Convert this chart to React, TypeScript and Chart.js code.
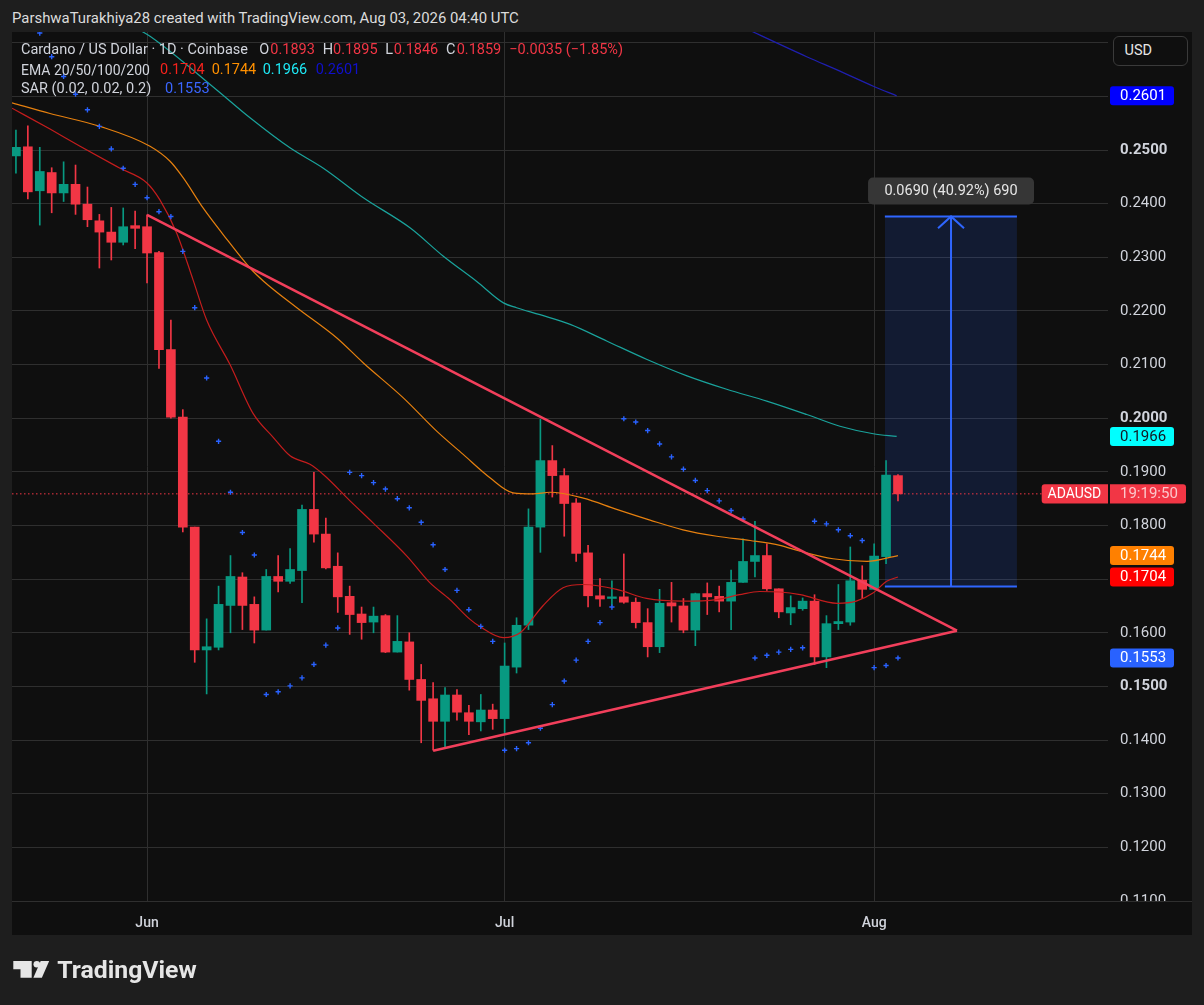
import React, { useEffect, useRef } from 'react';
import { Chart, registerables } from 'chart.js';

Chart.register(...registerables);

// ---- data (day index 0 = May 21, 2026) ----
const opens = [0.2489,0.2506,0.2424,0.2458,0.2420,0.2436,0.2399,0.2368,0.2347,0.2328,0.2359,
0.2357,0.2309,0.2128,0.2002,0.1797,0.1568,0.1573,0.1651,0.1704,0.1653,0.1605,0.1705,0.1696,0.1716,0.1830,0.1784,0.1724,0.1668,0.1635,0.1620,0.1632,0.1564,0.1583,0.1513,0.1477,0.1435,0.1484,0.1451,0.1434,0.1456,
0.1440,0.1536,0.1614,0.1797,0.1921,0.1893,0.1842,0.1749,0.1669,0.1664,0.1667,0.1657,0.1619,0.1574,0.1656,0.1650,0.1605,0.1673,0.1668,0.1659,0.1694,0.1733,0.1744,0.1682,0.1637,0.1645,0.1659,0.1555,0.1617,0.1620,0.1698,
0.1681,0.1742,0.1893];
const highs = [0.2537,0.2545,0.2505,0.2467,0.2478,0.2472,0.2431,0.2380,0.2393,0.2392,0.2386,
0.2379,0.2311,0.2183,0.2016,0.1797,0.1626,0.1687,0.1744,0.1712,0.1667,0.1718,0.1744,0.1757,0.1838,0.1899,0.1814,0.1749,0.1687,0.1648,0.1648,0.1634,0.1632,0.1600,0.1541,0.1507,0.1498,0.1494,0.1465,0.1485,0.1467,
0.1581,0.1628,0.1831,0.1998,0.1949,0.1906,0.1850,0.1763,0.1701,0.1697,0.1747,0.1665,0.1645,0.1681,0.1694,0.1664,0.1674,0.1693,0.1687,0.1717,0.1775,0.1808,0.1766,0.1682,0.1669,0.1665,0.1671,0.1632,0.1690,0.1760,0.1725,
0.1766,0.1921,0.1895];
const lows = [0.2457,0.2409,0.2360,0.2383,0.2404,0.2380,0.2357,0.2280,0.2295,0.2323,0.2316,
0.2252,0.2093,0.2000,0.1788,0.1545,0.1486,0.1568,0.1600,0.1606,0.1581,0.1605,0.1676,0.1692,0.1656,0.1769,0.1719,0.1638,0.1597,0.1588,0.1600,0.1563,0.1564,0.1493,0.1395,0.1381,0.1386,0.1437,0.1410,0.1417,0.1420,
0.1414,0.1525,0.1606,0.1750,0.1853,0.1780,0.1733,0.1648,0.1649,0.1651,0.1655,0.1609,0.1555,0.1563,0.1620,0.1600,0.1576,0.1634,0.1639,0.1606,0.1694,0.1704,0.1679,0.1628,0.1615,0.1642,0.1541,0.1535,0.1606,0.1614,0.1664,
0.1681,0.1729,0.1846];
const closes = [0.2505,0.2422,0.2460,0.2420,0.2436,0.2399,0.2370,0.2347,0.2328,0.2357,0.2354,
0.2308,0.2128,0.2002,0.1797,0.1568,0.1574,0.1653,0.1705,0.1651,0.1605,0.1705,0.1696,0.1718,0.1830,0.1784,0.1721,0.1667,0.1634,0.1619,0.1631,0.1564,0.1584,0.1513,0.1474,0.1435,0.1484,0.1452,0.1435,0.1456,0.1440,
0.1538,0.1614,0.1797,0.1921,0.1893,0.1841,0.1748,0.1669,0.1663,0.1667,0.1657,0.1619,0.1574,0.1655,0.1650,0.1605,0.1673,0.1667,0.1659,0.1694,0.1733,0.1744,0.1682,0.1639,0.1647,0.1659,0.1555,0.1617,0.1621,0.1697,0.1681,
0.1743,0.1894,0.1859];

const sarValues = [null,null,0.2718,0.2674,0.2637,0.2604,0.2575,0.2544,0.2502,0.2466,0.2436,
0.2411,0.2385,0.2376,0.2311,0.2206,0.2075,0.1957,0.1862,0.1787,0.1745,0.1485,0.1490,0.1501,0.1516,0.1541,0.1577,0.1609,0.1899,0.1893,0.1880,0.1868,0.1850,0.1833,0.1806,0.1764,0.1718,0.1679,0.1643,0.1612,0.1584,
0.1381,0.1384,0.1395,0.1422,0.1466,0.1510,0.1549,0.1584,0.1619,0.1648,0.1999,0.1993,0.1977,0.1952,0.1928,0.1905,0.1884,0.1865,0.1846,0.1828,0.1812,0.1553,0.1558,0.1564,0.1569,0.1572,0.1808,0.1803,0.1792,0.1781,0.1772,
0.1535,0.1539,0.1553];

const ema20X = [-0.33,2.86,5.38,8.73,10.97,12.08,13.49,14.86,16.0,17.96,19.92,21.6,23.0,24.67,25.79,28.03,29.96,32.8,34.7,36.4,38.1,38.9,40.9,42.3,44.2,45.9,47.6,50.4,52.9,55.96,58.8,60.7,62.4,64.1,65.8,68.9,70.5,71.9,73.05,74.0];
const ema20Y = [0.2578,0.2539,0.2507,0.2466,0.2439,0.2407,0.2345,0.2258,0.2183,0.2100,0.2008,0.1964,0.1930,0.1914,0.1895,0.1846,0.1805,0.1743,0.1694,0.1662,0.1625,0.1612,0.1591,0.1600,0.1650,0.1684,0.1690,0.1681,0.1664,0.1659,0.1662,0.1671,0.1677,0.1676,0.1671,0.1655,0.1659,0.1674,0.1696,0.1704];
const ema50X = [-0.33,2.86,7.06,11.25,12.93,14.04,15.7,17.4,19.64,20.8,23.57,26.9,29.15,32.5,35.3,37.5,39.77,41.7,43.4,44.8,47.6,50.4,53.2,55.96,58.8,61.6,64.1,65.8,68.55,71.4,74.0];
const ema50Y = [0.2588,0.2568,0.2544,0.2507,0.2479,0.2448,0.2392,0.2342,0.2280,0.2255,0.2206,0.2150,0.2103,0.2038,0.1976,0.1933,0.1889,0.1861,0.1859,0.1862,0.1851,0.1830,0.1810,0.1792,0.1780,0.1772,0.1763,0.1752,0.1738,0.1733,0.1744];
const ema100X = [10.1,11.25,16.85,19.64,22.99,25.79,29.15,33.06,35.86,38.66,40.9,42.0,43.97,46.5,49.56,52.9,56.3,59.63,62.99,66.34,69.13,71.93,73.89];
const ema100Y = [0.2727,0.2712,0.2612,0.2560,0.2504,0.2466,0.2411,0.2355,0.2302,0.2255,0.2215,0.2206,0.2193,0.2175,0.2144,0.2110,0.2079,0.2054,0.2032,0.2007,0.1985,0.1971,0.1966];
const ema200X = [61.0,61.86,66.34,69.13,71.93,73.89];
const ema200Y = [0.2729,0.2720,0.2674,0.2647,0.2619,0.2601];

const triUpperX = [11, 78.95];
const triUpperY = [0.2379, 0.1604];
const triLowerX = [35, 78.95];
const triLowerY = [0.1380, 0.1604];

const rangeX = [72.9, 83.98];
const rangeLow = 0.16862;
const rangeHigh = 0.23762;
const arrowX = 78.45;
const arrowHeadX = [77.36, 78.45, 79.54];
const arrowHeadY = [0.2354, 0.23762, 0.2354];

const lastPrice = closes[closes.length - 1];
const yTicks = [0.11,0.12,0.13,0.14,0.15,0.16,0.17,0.18,0.19,0.20,0.21,0.22,0.23,0.24,0.25,0.26,0.27];
const monthTicks = [11, 41, 72];
const monthLabels = ['Jun', 'Jul', 'Aug'];

const X_MIN = -0.33;
const X_MAX = 91.62;

// ---- styles ----
const GREEN = '#089981';
const RED = '#f23645';
const GRID = '#2f2f2f';
const TXT = '#d1d4dc';
const OUTER = '#1e1e1e';
const PANE = '#0f0f0f';
const EMA20C = '#c41d1d';
const EMA50C = '#e6800f';
const EMA100C = '#1aa39c';
const EMA200C = '#1f1fb0';
const SARC = '#2962ff';
const FONT = 'Roboto, "Noto Sans", sans-serif';

const f4 = (v: number) => v.toFixed(4);
const last = (a: number[]) => a[a.length - 1];

const pts = (xs: number[], ys: number[]) => xs.map((x, i) => ({ x, y: ys[i] }));

const tagPlugin = {
  id: 'tvTags',
  afterDraw(chart: any) {
    const { ctx, chartArea } = chart;
    const x = chart.scales.x;
    const y = chart.scales.y;
    ctx.save();
    // separator between plot and time axis
    ctx.strokeStyle = GRID;
    ctx.lineWidth = 1;
    ctx.beginPath();
    ctx.moveTo(0, Math.round(chartArea.bottom) + 0.5);
    ctx.lineTo(chart.width, Math.round(chartArea.bottom) + 0.5);
    ctx.stroke();

    // clipped lowest price label
    ctx.save();
    ctx.beginPath();
    ctx.rect(y.left, chartArea.top, y.width, chartArea.bottom - chartArea.top);
    ctx.clip();
    ctx.font = `15px ${FONT}`;
    ctx.fillStyle = TXT;
    ctx.textBaseline = 'middle';
    ctx.textAlign = 'left';
    ctx.fillText(f4(yTicks[0]), y.left + 12, y.getPixelForValue(yTicks[0]));
    ctx.restore();

    // measure label
    const diff = rangeHigh - rangeLow;
    const label = `${f4(diff)} (${((diff / rangeLow) * 100).toFixed(2)}%) ${Math.round(diff * 10000)}`;
    const xm = x.getPixelForValue(arrowX);
    const yt = y.getPixelForValue(rangeHigh);
    const lw = 166, lh = 27;
    ctx.fillStyle = '#363636';
    ctx.beginPath();
    ctx.roundRect(xm - lw / 2, yt - 12 - lh, lw, lh, 5);
    ctx.fill();
    ctx.fillStyle = '#e6e6e6';
    ctx.font = `14.5px ${FONT}`;
    ctx.textAlign = 'center';
    ctx.textBaseline = 'middle';
    ctx.fillText(label, xm, yt - 12 - lh / 2 + 0.5);

    // price tags
    const tags = [
      { v: last(ema200Y), bg: '#0000ff', fg: '#ffffff' },
      { v: last(ema100Y), bg: '#00ffff', fg: '#131722' },
      { v: last(ema50Y), bg: '#ff8000', fg: '#ffffff' },
      { v: last(ema20Y), bg: '#ff0000', fg: '#ffffff' },
      { v: sarValues[sarValues.length - 1] as number, bg: SARC, fg: '#ffffff' },
    ];
    ctx.font = `15px ${FONT}`;
    ctx.textAlign = 'left';
    ctx.textBaseline = 'middle';
    for (const t of tags) {
      const py = y.getPixelForValue(t.v);
      ctx.fillStyle = t.bg;
      ctx.beginPath();
      ctx.roundRect(y.left + 2, py - 9.5, 64, 19, 3);
      ctx.fill();
      ctx.fillStyle = t.fg;
      ctx.fillText(f4(t.v), y.left + 12, py + 0.5);
    }
    // last price tag with symbol + countdown
    const pp = y.getPixelForValue(lastPrice);
    ctx.fillStyle = RED;
    ctx.beginPath();
    ctx.roundRect(y.left - 66.3, pp - 9.7, 66.3, 19.4, [3, 0, 0, 3]);
    ctx.fill();
    ctx.beginPath();
    ctx.roundRect(y.left + 2, pp - 9.7, 76, 19.4, [0, 3, 3, 0]);
    ctx.fill();
    ctx.fillStyle = '#ffffff';
    ctx.font = `14px ${FONT}`;
    ctx.fillText('ADAUSD', y.left - 60.5, pp + 0.5);
    ctx.fillStyle = 'rgba(255,255,255,0.72)';
    ctx.font = `15px ${FONT}`;
    ctx.fillText('19:19:50', y.left + 12, pp + 0.5);
    ctx.restore();
  },
};

export default function App() {
  const ref = useRef<HTMLCanvasElement | null>(null);

  useEffect(() => {
    document.body.style.margin = '0';
    document.body.style.background = OUTER;
    const canvas = ref.current;
    if (!canvas) return;
    const idx = opens.map((_, i) => i);
    const candleColor = (c: any) => {
      const i = c.dataIndex;
      return closes[i] >= opens[i] ? GREEN : RED;
    };
    const lineDs = (label: string, data: any[], color: string, width: number, order: number, extra: any = {}) => ({
      type: 'line',
      label,
      data,
      borderColor: color,
      borderWidth: width,
      pointRadius: 0,
      fill: false,
      order,
      ...extra,
    });
    const chart = new Chart(canvas, {
      type: 'bar',
      data: {
        datasets: [
          {
            type: 'line',
            label: 'rangeFill',
            data: rangeX.map((x) => ({ x, y: rangeHigh })),
            borderWidth: 0,
            pointRadius: 0,
            fill: { value: rangeLow },
            backgroundColor: 'rgba(41,98,255,0.15)',
            order: 30,
          },
          lineDs('price', [{ x: X_MIN, y: lastPrice }, { x: X_MAX, y: lastPrice }], RED, 1, 29, { borderDash: [1.5, 2.5] }),
          {
            type: 'bar',
            label: 'wicks',
            data: idx.map((i) => ({ x: i, y: [lows[i], highs[i]] })),
            backgroundColor: candleColor,
            barThickness: 1,
            grouped: false,
            borderWidth: 0,
            order: 20,
          },
          {
            type: 'bar',
            label: 'bodies',
            data: idx.map((i) => ({ x: i, y: [opens[i], closes[i]] })),
            backgroundColor: candleColor,
            barThickness: 9,
            grouped: false,
            borderWidth: 0,
            minBarLength: 1.5,
            order: 19,
          },
          lineDs('EMA200', pts(ema200X, ema200Y), EMA200C, 1.2, 12, { cubicInterpolationMode: 'monotone' }),
          lineDs('EMA100', pts(ema100X, ema100Y), EMA100C, 1.2, 11, { cubicInterpolationMode: 'monotone' }),
          lineDs('EMA50', pts(ema50X, ema50Y), EMA50C, 1.2, 10, { cubicInterpolationMode: 'monotone' }),
          lineDs('EMA20', pts(ema20X, ema20Y), EMA20C, 1.2, 9, { cubicInterpolationMode: 'monotone' }),
          {
            type: 'line',
            label: 'SAR',
            data: idx.filter((i) => sarValues[i] !== null).map((i) => ({ x: i, y: sarValues[i] })),
            showLine: false,
            pointStyle: 'cross',
            pointRadius: 2.6,
            pointBorderWidth: 1.4,
            borderColor: SARC,
            backgroundColor: SARC,
            order: 5,
          },
          lineDs('triUpper', pts(triUpperX, triUpperY), '#f23f5b', 2.6, 3),
          lineDs('triLower', pts(triLowerX, triLowerY), '#f23f5b', 2.6, 3),
          lineDs('rangeTop', rangeX.map((x) => ({ x, y: rangeHigh })), '#2f66ff', 2, 2),
          lineDs('rangeBottom', rangeX.map((x) => ({ x, y: rangeLow })), '#2f66ff', 2, 2),
          lineDs('arrow', [{ x: arrowX, y: rangeLow }, { x: arrowX, y: rangeHigh }], '#2f66ff', 2, 2),
          lineDs('arrowHead', pts(arrowHeadX, arrowHeadY), '#2f66ff', 2, 2),
        ] as any,
      },
      options: {
        animation: false,
        responsive: false,
        events: [],
        layout: { padding: 0, autoPadding: false },
        plugins: { legend: { display: false }, tooltip: { enabled: false } },
        scales: {
          x: {
            type: 'linear',
            position: 'bottom',
            min: X_MIN,
            max: X_MAX,
            offset: false,
            afterBuildTicks: (s: any) => {
              s.ticks = monthTicks.map((v) => ({ value: v }));
            },
            afterFit: (s: any) => {
              s.height = 34;
              s.paddingLeft = 0;
              s.paddingRight = 0;
              s.paddingTop = 0;
              s.paddingBottom = 0;
            },
            ticks: {
              autoSkip: false,
              maxRotation: 0,
              padding: 14,
              color: TXT,
              font: { family: FONT, size: 14, weight: '500' },
              callback: (v: any) => {
                const k = monthTicks.indexOf(Number(v));
                return k >= 0 ? monthLabels[k] : '';
              },
            },
            grid: { color: GRID, drawTicks: false, offset: false },
            border: { display: false },
          },
          y: {
            type: 'linear',
            position: 'right',
            min: 0.11,
            max: 0.272,
            afterBuildTicks: (s: any) => {
              s.ticks = yTicks.map((v) => ({ value: v }));
            },
            afterFit: (s: any) => {
              s.width = 84;
              s.paddingLeft = 0;
              s.paddingRight = 0;
              s.paddingTop = 0;
              s.paddingBottom = 0;
            },
            ticks: {
              autoSkip: false,
              padding: 12,
              color: TXT,
              font: (c: any) => {
                const v = c.tick ? c.tick.value : 0;
                const bold = Math.abs(Math.round(v * 20) - v * 20) < 1e-6;
                return { family: FONT, size: 15, weight: bold ? 'bold' : 'normal' };
              },
              callback: (v: any) => {
                const nv = Number(v);
                if (Math.abs(nv - yTicks[0]) < 1e-9 || Math.abs(nv - yTicks[yTicks.length - 1]) < 1e-9) return '';
                return nv.toFixed(4);
              },
            },
            grid: { color: GRID, drawTicks: false },
            border: { display: false },
          },
        },
      } as any,
      plugins: [tagPlugin],
    });
    return () => chart.destroy();
  }, []);

  const n = closes.length;
  const o = opens[n - 1], h = highs[n - 1], l = lows[n - 1], c = closes[n - 1];
  const chg = c - closes[n - 2];
  const pct = (chg / closes[n - 2]) * 100;
  const minus = (s: string) => s.replace('-', '\u2212');

  const txt = (left: number, cy: number, text: string, color: string, size = 14.5, extra: any = {}) => (
    <span
      style={{
        position: 'absolute',
        left,
        top: cy - 9,
        lineHeight: '18px',
        fontSize: size,
        color,
        whiteSpace: 'nowrap',
        fontFamily: FONT,
        ...extra,
      }}
    >
      {text}
    </span>
  );

  return (
    <div
      style={{
        position: 'absolute',
        left: 0,
        top: 0,
        width: 1204,
        height: 1005,
        background: OUTER,
        overflow: 'hidden',
        fontFamily: FONT,
      }}
    >
      <div style={{ position: 'absolute', left: 12, top: 32, width: 1180, height: 903, background: PANE }}>
        <canvas ref={ref} width={1180} height={903} style={{ display: 'block', width: 1180, height: 903 }} />
      </div>

      {txt(12, 18, 'ParshwaTurakhiya28 created with TradingView.com, Aug 03, 2026 04:40 UTC', '#dcdcdc', 14.9)}

      {txt(21, 49.5, 'Cardano / US Dollar · 1D · Coinbase', TXT)}
      {txt(259.3, 49.5, 'O', TXT)}
      {txt(270.3, 49.5, f4(o), RED)}
      {txt(322.7, 49.5, 'H', TXT)}
      {txt(333, 49.5, f4(h), RED)}
      {txt(385.3, 49.5, 'L', TXT)}
      {txt(393.7, 49.5, f4(l), RED)}
      {txt(446, 49.5, 'C', TXT)}
      {txt(456.7, 49.5, f4(c), RED)}
      {txt(509.3, 49.5, `${minus(chg.toFixed(4))} (${minus(pct.toFixed(2))}%)`, RED)}

      {txt(21, 69.5, 'EMA 20/50/100/200', TXT, 14)}
      {txt(160, 69.5, f4(last(ema20Y)), '#f5221c')}
      {txt(211.7, 69.5, f4(last(ema50Y)), '#ff9000')}
      {txt(262.7, 69.5, f4(last(ema100Y)), '#1ee8f5')}
      {txt(315.7, 69.5, f4(last(ema200Y)), '#1010cc')}

      {txt(21, 89, 'SAR (0.02, 0.02, 0.2)', TXT)}
      {txt(165, 89, f4(sarValues[n - 1] as number), '#3a66ff')}

      <div
        style={{
          position: 'absolute',
          left: 1113,
          top: 36,
          width: 73,
          height: 28,
          border: '1px solid #3a3a3a',
          borderRadius: 6,
          background: PANE,
        }}
      />
      {txt(1124.5, 51, 'USD', '#e6e6e6', 14.5)}

      <svg
        width={1204}
        height={1005}
        style={{ position: 'absolute', left: 0, top: 0, pointerEvents: 'none' }}
      >
        <path d="M13.3,961 H31.7 V977.7 H20.5 V969.3 H13.3 Z" fill="#e6e6e6" />
        <circle cx={36.8} cy={964.3} r={3.3} fill="#e6e6e6" />
        <path d="M40.7,961 H49.2 L41.9,977.7 H33.4 Z" fill="#e6e6e6" />
        <text
          x={57.3}
          y={977.7}
          fontFamily={FONT}
          fontSize={23}
          fontWeight={700}
          fill="#e6e6e6"
          textLength={139.4}
          lengthAdjust="spacingAndGlyphs"
        >
          TradingView
        </text>
      </svg>
    </div>
  );
}
